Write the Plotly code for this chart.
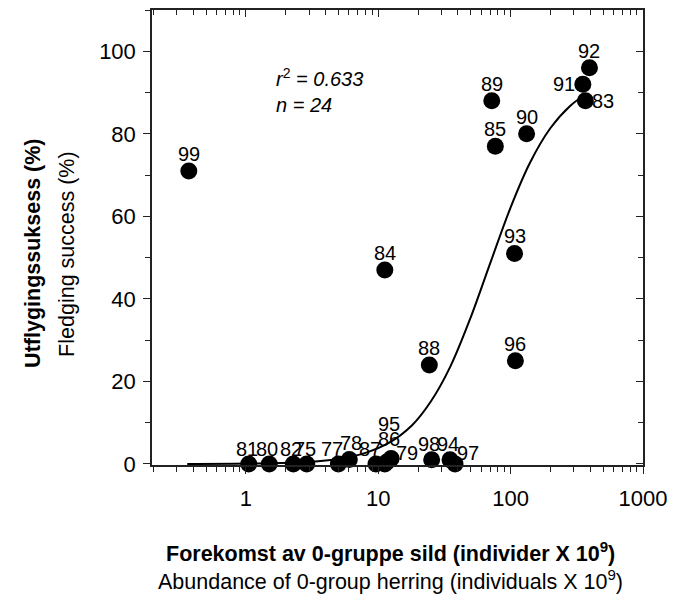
import numpy as np
import plotly.graph_objects as go

# ---- data ----
years = ["99", "81", "80", "82", "75", "77", "78", "87", "95", "86", "79", "84",
         "88", "98", "94", "97", "89", "85", "90", "93", "96", "91", "92", "83"]
abundance = [0.37, 1.05, 1.50, 2.28, 2.88, 4.99, 6.04, 9.6, 11.2, 11.6, 12.5, 11.2,
             24.3, 25.3, 34.8, 38.0, 72.0, 76.6, 132.0, 107.0, 108.6, 351.0, 394.0, 367.0]
success = [71, 0, 0, 0, 0, 0, 1.1, 0, 0, 0.5, 1.3, 47,
           24, 1.0, 1.0, 0, 88, 77, 80, 51, 25, 92, 96, 88]

# fitted curve
curve_x = [0.36, 1, 3, 5, 8, 12, 18, 25, 35, 50, 70, 100, 140, 200, 280, 375]
curve_y = [0.0, 0.1, 0.5, 1.2, 2.7, 5.1, 9.4, 15.2, 23.6, 35.6, 48.6, 62.2, 73.0, 81.4, 86.7, 89.7]

x_ticks = [1, 10, 100, 1000]
y_ticks = [0, 20, 40, 60, 80, 100]

stats_text = "<i>r</i><sup>2</sup><i> = 0.633</i><br><i>n = 24</i>"
x_title_1 = "<b>Forekomst av 0-gruppe sild (individer X 10<sup>9</sup>)</b>"
x_title_2 = "Abundance of 0-group herring (individuals X 10<sup>9</sup>)"
y_title_1 = "<b>Utflygingssuksess (%)</b>"
y_title_2 = "Fledging success (%)"

# ---- style ----
FONT = "Liberation Sans Narrow, Arial Narrow, Liberation Sans, Arial, sans-serif"
label_shift = {  # (xshift, yshift) in px for point labels
    "95": (4, 40), "86": (2, 23), "79": (16, 6), "97": (13, 11),
    "87": (-6, 15), "77": (-6, 15), "78": (2, 16), "81": (-2, 15),
    "80": (-2, 15), "82": (-2, 15), "75": (-2, 15), "98": (-3, 16),
    "94": (-2, 16), "91": (-19, 0), "83": (18, 0),
}
XR = [-0.71, 3.0]
YR = [-0.25, 110]
minor_log = [k * 10.0 ** n for n in range(-1, 3) for k in range(2, 10)]

fig = go.Figure()
fig.add_trace(go.Scatter(
    x=curve_x, y=curve_y, mode="lines", line=dict(color="black", width=2, shape="spline"),
    showlegend=False, hoverinfo="skip"))
fig.add_trace(go.Scatter(
    x=abundance, y=success, mode="markers",
    marker=dict(color="black", size=17, line=dict(width=0)),
    text=years, showlegend=False, cliponaxis=False))
# dummy trace for mirrored (inward) axes
fig.add_trace(go.Scatter(x=[], y=[], xaxis="x2", yaxis="y2", showlegend=False, hoverinfo="skip"))

annotations = []
for yr, xv, yv in zip(years, abundance, success):
    dx, dy = label_shift.get(yr, (0, 17))
    annotations.append(dict(x=np.log10(xv), y=yv, xref="x", yref="y", text=yr,
                            showarrow=False, xshift=dx, yshift=dy,
                            font=dict(family=FONT, size=20, color="black")))
annotations.append(dict(x=0.248, y=0.823, xref="paper", yref="paper", text=stats_text,
                        showarrow=False, xanchor="left", yanchor="middle", align="left",
                        font=dict(family=FONT, size=20, color="black")))
# axis titles
annotations.append(dict(x=0.485, y=0, xref="paper", yref="paper", text=x_title_1,
                        showarrow=False, xanchor="center", yanchor="middle", yshift=-87,
                        font=dict(family=FONT, size=21.5, color="black")))
annotations.append(dict(x=0.485, y=0, xref="paper", yref="paper", text=x_title_2,
                        showarrow=False, xanchor="center", yanchor="middle", yshift=-115,
                        font=dict(family=FONT, size=21.5, color="black")))
annotations.append(dict(x=0, y=0.464, xref="paper", yref="paper", text=y_title_1,
                        showarrow=False, xanchor="center", yanchor="middle", xshift=-119,
                        textangle=-90, font=dict(family=FONT, size=21.5, color="black")))
annotations.append(dict(x=0, y=0.464, xref="paper", yref="paper", text=y_title_2,
                        showarrow=False, xanchor="center", yanchor="middle", xshift=-85,
                        textangle=-90, font=dict(family=FONT, size=21.5, color="black")))
fig.update_layout(annotations=annotations)

axis_common = dict(showgrid=False, zeroline=False, showline=True, linecolor="#222222",
                   linewidth=1.5, tickcolor="#222222", tickwidth=1.2)

fig.update_layout(
    width=674, height=595,
    margin=dict(l=144, r=39, t=2, b=138, autoexpand=False),
    paper_bgcolor="white", plot_bgcolor="white",
    font=dict(family=FONT, size=22, color="black"),
    xaxis=dict(type="log", range=XR, tickmode="array", tickvals=x_ticks,
               ticktext=[str(v) for v in x_ticks], ticks="outside", ticklen=7,
               ticklabelstandoff=6,
               minor=dict(ticks="outside", ticklen=5, tickmode="array", tickvals=minor_log,
                          tickcolor="#222222", showgrid=False),
               **axis_common),
    yaxis=dict(range=YR, tickmode="array", tickvals=y_ticks, ticks="outside", ticklen=7,
               ticklabelstandoff=3,
               minor=dict(ticks="outside", ticklen=5, dtick=10, tick0=0, tickcolor="#222222", showgrid=False),
               **axis_common),
    xaxis2=dict(type="log", range=XR, overlaying="x", side="top", tickmode="array",
                tickvals=x_ticks, ticks="inside", ticklen=7, showticklabels=False,
                minor=dict(ticks="inside", ticklen=5, tickmode="array", tickvals=minor_log,
                           tickcolor="#222222", showgrid=False),
                **axis_common),
    yaxis2=dict(range=YR, overlaying="y", side="right", tickmode="array", tickvals=y_ticks,
                ticks="inside", ticklen=7, showticklabels=False,
                minor=dict(ticks="inside", ticklen=5, dtick=10, tick0=0, tickcolor="#222222", showgrid=False),
                **axis_common),
)

fig.write_html("out.html")
